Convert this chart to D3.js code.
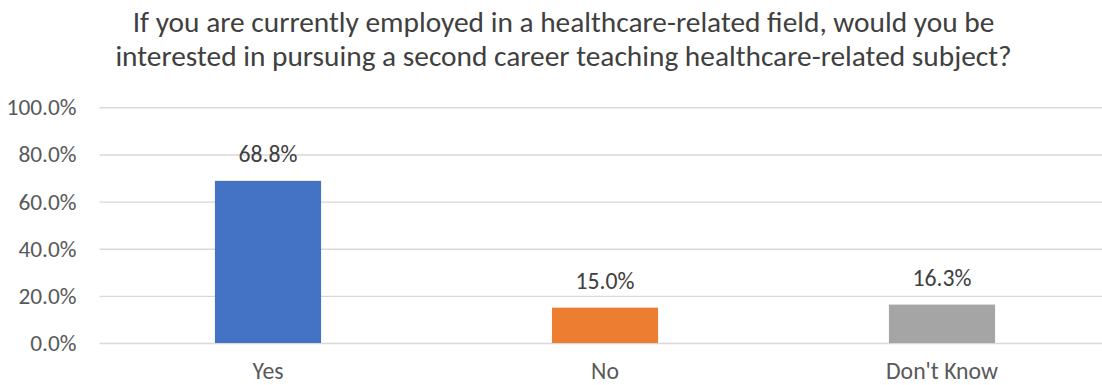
<!DOCTYPE html>
<html>
<head>
<meta charset="utf-8">
<script src="https://cdn.jsdelivr.net/npm/d3@7"></script>
<style>
  html, body { margin: 0; padding: 0; background: #ffffff; }
  svg { display: block; font-family: Carlito, Calibri, Lato, "Open Sans", sans-serif; }
</style>
</head>
<body>
<svg id="chart" width="1102" height="385"></svg>
<script>
// Survey responses
const titleLines = [
  "If you are currently employed in a healthcare-related field, would you be",
  "interested in pursuing a second career teaching healthcare-related subject?"
];
const categories = ["Yes", "No", "Don't Know"];
const shares = [0.688, 0.150, 0.163];
const barColors = ["#4472C4", "#ED7D31", "#A5A5A5"];
const yTicks = [0, 0.2, 0.4, 0.6, 0.8, 1.0];

const W = 1102, H = 385;
const plot = { left: 99.5, right: 1110.5, top: 107.3, bottom: 343 };

const svg = d3.select("#chart");

// Pick a font size so that a sample string spans the wanted width
function fitSize(sample, width, base) {
  const t = svg.append("text").attr("font-size", base).text(sample);
  const w = t.node().getComputedTextLength();
  t.remove();
  return base * width / w;
}
const titleSize = fitSize(titleLines[0], 862, 27);
const tickSize = fitSize("100.0%", 70, 22);
const valueSize = fitSize("68.8%", 59, 22);
const catSize = fitSize("Don't Know", 112, 22);

const x = d3.scaleBand()
  .domain(categories)
  .range([plot.left, plot.right])
  .paddingInner(0.685)
  .paddingOuter(0.3425);

const y = d3.scaleLinear()
  .domain([0, 1])
  .range([plot.bottom, plot.top]);

const pct = d3.format(".1%");

// Title
const title = svg.append("text")
  .attr("x", 563.5)
  .attr("y", 31.5)
  .attr("text-anchor", "middle")
  .attr("fill", "#404040")
  .attr("font-size", titleSize);
title.selectAll("tspan")
  .data(titleLines)
  .join("tspan")
  .attr("x", 563.5)
  .attr("dy", (d, i) => i === 0 ? 0 : 34.5)
  .text(d => d);

// Gridlines and value axis
const yAxis = d3.axisLeft(y)
  .tickValues(yTicks)
  .tickSize(-(W - plot.left))
  .tickPadding(23)
  .tickFormat(pct);

const gy = svg.append("g")
  .attr("transform", `translate(${plot.left},0)`)
  .call(yAxis)
  .attr("font-family", null)
  .attr("font-size", tickSize);
gy.select(".domain").remove();
gy.selectAll(".tick line")
  .attr("stroke", "#D9D9D9")
  .attr("stroke-width", 1.4);
gy.selectAll(".tick text")
  .attr("fill", "#595959")
  .attr("dy", "0.32em");

// Bars
svg.append("g")
  .selectAll("rect")
  .data(categories)
  .join("rect")
  .attr("x", d => x(d))
  .attr("width", x.bandwidth())
  .attr("y", (d, i) => y(shares[i]))
  .attr("height", (d, i) => y(0) - y(shares[i]))
  .attr("fill", (d, i) => barColors[i]);

// Value labels
svg.append("g")
  .selectAll("text")
  .data(categories)
  .join("text")
  .attr("x", d => x(d) + x.bandwidth() / 2)
  .attr("y", (d, i) => y(shares[i]) - 18.5)
  .attr("text-anchor", "middle")
  .attr("fill", "#404040")
  .attr("font-size", valueSize)
  .text((d, i) => pct(shares[i]));

// Category axis
const xAxis = d3.axisBottom(x).tickSize(0).tickPadding(0);
const gx = svg.append("g")
  .attr("transform", `translate(0,${plot.bottom})`)
  .call(xAxis)
  .attr("font-family", null)
  .attr("font-size", catSize);
gx.select(".domain").remove();
gx.selectAll(".tick text")
  .attr("fill", "#595959")
  .attr("dy", null)
  .attr("y", 36);
</script>
</body>
</html>
